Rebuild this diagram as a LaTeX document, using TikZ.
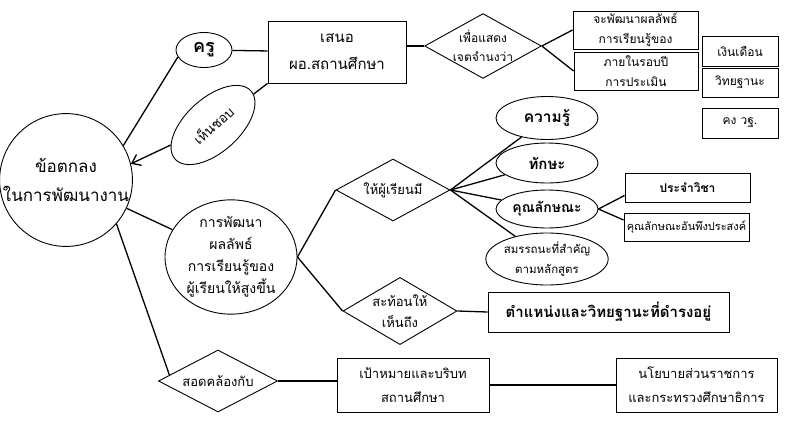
\documentclass[tikz,border=0pt]{standalone}
\usepackage{fontspec}
\setmainfont[Script=Thai]{Loma}
\usetikzlibrary{shapes.geometric,arrows.meta}
\newcommand{\fs}[1]{\fontsize{#1}{#1}\selectfont}
\begin{document}
\begin{tikzpicture}[x=1pt,y=-1pt,
    box/.style={draw,line width=0.9pt,rectangle,inner sep=0pt,align=center},
    oval/.style={draw,line width=0.9pt,ellipse,inner sep=0pt,align=center},
    choice/.style={draw,line width=0.9pt,diamond,aspect=1.8,inner sep=0pt,
        minimum width=114,minimum height=62,align=center},
    link/.style={line width=1.3pt}]
    \useasboundingbox (0,0) rectangle (809,426);

    % centre
    \node[draw,line width=0.9pt,circle,minimum size=130,inner sep=0pt,align=center,
        font=\fontsize{17}{29}\selectfont] (agree) at (66,180) {ข้อตกลง\\ในการพัฒนางาน};

    % upper branch
    \node[oval,minimum width=56,minimum height=35,font=\bfseries\fs{18}] (teacher) at (204,50) {ครู};
    \node[box,minimum width=138,minimum height=62,font=\fontsize{15}{27}\selectfont] (propose) at (337,52) {เสนอ\\ผอ.สถานศึกษา};
    \node[oval,rotate=42,minimum width=102,minimum height=54,font=\fs{13.5}] (approve) at (213,125) {เห็นชอบ};
    \node[choice,font=\fontsize{12}{19}\selectfont] (intent) at (483,46) {เพื่อแสดง\\เจตจำนงว่า};
    \node[box,minimum width=125,minimum height=38,font=\fontsize{12}{20}\selectfont] (goalA) at (635.5,30) {จะพัฒนาผลลัพธ์\\การเรียนรู้ของ};
    \node[box,minimum width=124,minimum height=38,font=\fontsize{12}{20}\selectfont] (goalB) at (636,71) {ภายในรอบปี\\การประเมิน};
    \node[box,minimum width=76,minimum height=30,font=\fs{12}] (salary) at (740,51) {เงินเดือน};
    \node[box,minimum width=76,minimum height=29,font=\fs{12}] (rank) at (740,82.5) {วิทยฐานะ};
    \node[box,minimum width=76,minimum height=30,font=\fs{12}] (keep) at (740,123) {คง วฐ.};

    % middle branch
    \node[oval,minimum width=132,minimum height=110,font=\fontsize{14}{22}\selectfont] (develop) at (231,257)
        {การพัฒนา\\ผลลัพธ์\\การเรียนรู้ของ\\ผู้เรียนให้สูงขึ้น};
    \node[choice,font=\fs{13}] (have) at (393,190) {ให้ผู้เรียนมี};
    \node[choice,aspect=1.6,font=\fontsize{13}{21}\selectfont] (reflect) at (400,311) {สะท้อนให้\\เห็นถึง};
    \node[box,minimum width=241,minimum height=40,font=\bfseries\fs{15}] (position) at (608.5,312) {ตำแหน่งและวิทยฐานะที่ดำรงอยู่};
    \node[oval,minimum width=102,minimum height=43,font=\bfseries\fs{15.5}] (know) at (547,118) {ความรู้};
    \node[oval,minimum width=102,minimum height=40,font=\bfseries\fs{15}] (skill) at (547,163) {ทักษะ};
    \node[oval,minimum width=102,minimum height=38,font=\bfseries\fs{14}] (trait) at (547,209) {คุณลักษณะ};
    \node[oval,minimum width=102,minimum height=52,font=\fontsize{11.5}{20}\selectfont] (competency) at (547,259) {สมรรถนะที่สำคัญ\\ตามหลักสูตร};
    \node[box,minimum width=125,minimum height=29,font=\bfseries\fs{12}] (subject) at (687.5,187.5) {ประจำวิชา};
    \node[box,minimum width=125,minimum height=28,font=\fs{11}] (desired) at (686.5,227) {คุณลักษณะอันพึงประสงค์};

    % lower branch
    \node[choice,aspect=1.9,minimum width=119,font=\fs{13}] (align) at (218,381) {สอดคล้องกับ};
    \node[box,minimum width=152,minimum height=54,font=\fontsize{13}{24}\selectfont] (context) at (413,385) {เป้าหมายและบริบท\\สถานศึกษา};
    \node[box,minimum width=161,minimum height=54,font=\fontsize{13}{24}\selectfont] (policy) at (696.5,385) {นโยบายส่วนราชการ\\และกระทรวงศึกษาธิการ};

    % connectors
    \draw[link] (agree.31) -- (teacher.195);
    \draw[link] (teacher) -- (propose);
    \draw[link] (propose.south west) -- (approve);
    \draw[link,-{Straight Barb[length=8pt,width=12pt]}] (approve) -- (agree.14);
    \draw[link] (propose.east |- intent.west) -- (intent.west);
    \draw[link] (intent.east) -- (goalA.west);
    \draw[link] (intent.east) -- (goalB.west);

    \draw[link] (agree) -- (develop);
    \draw[link] (develop.east) -- (have.west);
    \draw[link] (develop.east) -- (reflect.west);
    \draw[link] (have.east) -- (know);
    \draw[link] (have.east) -- (skill);
    \draw[link] (have.east) -- (trait);
    \draw[link] (have.east) -- (competency);
    \draw[link] (trait.east) -- ([yshift=-8pt]subject.west);
    \draw[link] (trait.east) -- ([yshift=7pt]desired.west);
    \draw[link] (reflect.east) -- (position.west);

    \draw[link] (agree.-41) -- (align.173);
    \draw[link] (align.east) -- (align.east -| context.west);
    \draw[link] (context) -- (policy);
\end{tikzpicture}
\end{document}
